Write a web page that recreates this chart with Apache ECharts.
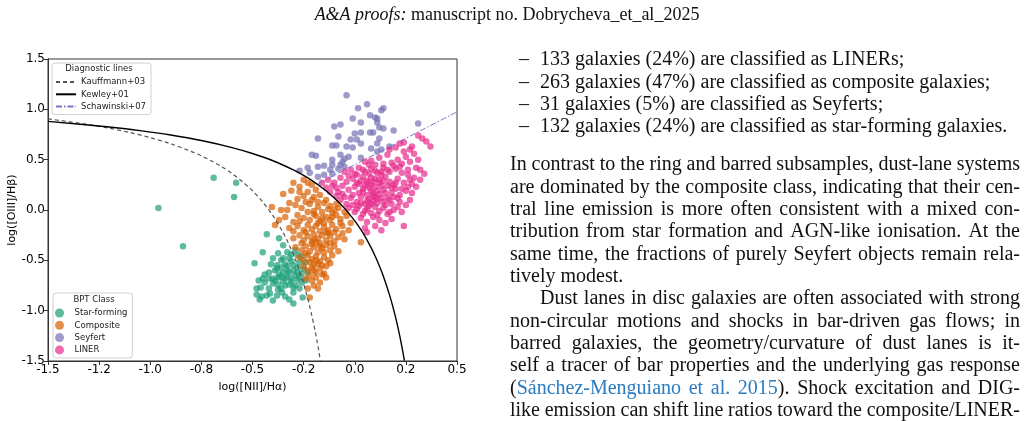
<!DOCTYPE html>
<html>
<head>
<meta charset="utf-8">
<script src="https://cdn.jsdelivr.net/npm/echarts@6/dist/echarts.min.js"></script>
<style>
  html, body { margin: 0; padding: 0; background: #fff; }
  #page { width: 1029px; height: 421px; }
</style>
</head>
<body>
<div id="page"></div>
<script>
// tick labels as printed on the figure (0.25 steps rounded to one decimal)
const xTickLabels = ['-1.5', '-1.2', '-1.0', '-0.8', '-0.5', '-0.2', '0.0', '0.2', '0.5'];
const yTickLabels = ['-1.5', '-1.0', '-0.5', '0.0', '0.5', '1.0', '1.5'];

// diagnostic lines
const kauffmannX = [-1.5, -1.3, -1.2, -1.1, -1.0, -0.9, -0.8, -0.75, -0.7, -0.65, -0.6, -0.55, -0.5, -0.45, -0.4, -0.35, -0.325, -0.3, -0.285, -0.27, -0.255, -0.24, -0.22, -0.21, -0.2, -0.193, -0.185, -0.176, -0.168];
const kauffmannY = [0.906, 0.848, 0.812, 0.770, 0.719, 0.658, 0.582, 0.538, 0.487, 0.429, 0.362, 0.283, 0.191, 0.080, -0.056, -0.225, -0.327, -0.443, -0.521, -0.606, -0.700, -0.803, -0.959, -1.046, -1.140, -1.210, -1.296, -1.399, -1.498];
const kewleyX = [-1.5, -1.2, -1.05, -0.9, -0.75, -0.6, -0.5, -0.4, -0.3, -0.25, -0.2, -0.15, -0.1, -0.05, 0.0, 0.03, 0.05, 0.08, 0.1, 0.12, 0.14, 0.17, 0.185, 0.2, 0.21, 0.22, 0.23, 0.235, 0.243];
const kewleyY = [0.880, 0.825, 0.789, 0.745, 0.690, 0.620, 0.561, 0.489, 0.398, 0.343, 0.280, 0.206, 0.120, 0.017, -0.108, -0.196, -0.262, -0.374, -0.459, -0.553, -0.658, -0.843, -0.950, -1.069, -1.156, -1.250, -1.352, -1.406, -1.497];
const schawinskiX = [-0.18, 0.5];
const schawinskiY = [0.261, 0.975];

// BPT classes: [log NII/Ha, log OIII/Hb]
const starForming = [
  [-0.96, 0.02], [-0.84, -0.36], [-0.69, 0.32], [-0.58, 0.27], [-0.59, 0.13], [-0.43, -0.24], [-0.37, -0.28], [-0.35, -0.35],
  [-0.45, -0.42], [-0.49, -0.53], [-0.375, -0.43], [-0.33, -0.42], [-0.40, -0.48], [-0.35, -0.48], [-0.32, -0.48], [-0.41, -0.54],
  [-0.38, -0.55], [-0.36, -0.57], [-0.33, -0.56], [-0.30, -0.55], [-0.28, -0.57], [-0.39, -0.60], [-0.35, -0.62], [-0.32, -0.62],
  [-0.28, -0.62], [-0.26, -0.63], [-0.45, -0.68], [-0.42, -0.68], [-0.40, -0.68], [-0.375, -0.67], [-0.34, -0.68], [-0.31, -0.68],
  [-0.28, -0.69], [-0.40, -0.73], [-0.375, -0.74], [-0.34, -0.75], [-0.32, -0.74], [-0.29, -0.75], [-0.26, -0.72], [-0.48, -0.78],
  [-0.46, -0.77], [-0.375, -0.79], [-0.355, -0.82], [-0.30, -0.82], [-0.48, -0.84], [-0.455, -0.86], [-0.43, -0.85], [-0.415, -0.83],
  [-0.34, -0.86], [-0.32, -0.89], [-0.255, -0.87], [-0.465, -0.89], [-0.36, -0.50], [-0.31, -0.44], [-0.29, -0.40], [-0.27, -0.52],
  [-0.30, -0.60], [-0.33, -0.66], [-0.37, -0.64], [-0.25, -0.58], [-0.24, -0.70], [-0.27, -0.78], [-0.39, -0.70], [-0.42, -0.62],
  [-0.44, -0.72], [-0.35, -0.71], [-0.31, -0.71], [-0.29, -0.65], [-0.38, -0.58], [-0.34, -0.54], [-0.31, -0.51], [-0.26, -0.46],
  [-0.24, -0.52], [-0.23, -0.62], [-0.36, -0.78], [-0.42, -0.78], [-0.40, -0.90], [-0.30, -0.93],
  [-0.33, -0.60], [-0.36, -0.66], [-0.27, -0.67], [-0.30, -0.77], [-0.38, -0.85], [-0.44, -0.64], [-0.47, -0.70], [-0.28, -0.45]
];
const composite = [
  [-0.30, 0.27], [-0.27, 0.23], [-0.23, 0.27], [-0.25, 0.30], [-0.21, 0.25],
  [-0.35, 0.16], [-0.28, 0.11], [-0.23, 0.18], [-0.20, 0.13], [-0.17, 0.15], [-0.14, 0.10], [-0.25, 0.14], [-0.31, 0.19], [-0.19, 0.20],
  [-0.405, 0.03], [-0.36, 0.00], [-0.33, 0.00], [-0.29, 0.05], [-0.26, 0.02], [-0.22, 0.06], [-0.18, 0.03], [-0.15, 0.07], [-0.12, 0.04],
  [-0.10, 0.00], [-0.20, -0.01], [-0.24, 0.08], [-0.16, -0.02], [-0.08, 0.02],
  [-0.34, -0.07], [-0.28, -0.05], [-0.30, -0.12], [-0.25, -0.08], [-0.22, -0.10], [-0.19, -0.06], [-0.17, -0.11], [-0.14, -0.07],
  [-0.12, -0.10], [-0.09, -0.05], [-0.07, -0.09], [-0.04, -0.06], [-0.20, -0.04], [-0.15, -0.13], [-0.11, -0.03],
  [-0.39, -0.15], [-0.32, -0.18], [-0.28, -0.16], [-0.25, -0.20], [-0.23, -0.15], [-0.21, -0.19], [-0.19, -0.16], [-0.17, -0.21],
  [-0.15, -0.17], [-0.13, -0.20], [-0.11, -0.15], [-0.09, -0.19], [-0.06, -0.16], [-0.03, -0.20], [-0.18, -0.13], [-0.14, -0.22],
  [-0.30, -0.28], [-0.27, -0.25], [-0.25, -0.30], [-0.23, -0.26], [-0.21, -0.31], [-0.20, -0.24], [-0.18, -0.28], [-0.16, -0.25],
  [-0.14, -0.30], [-0.12, -0.26], [-0.10, -0.31], [-0.08, -0.27], [-0.05, -0.29], [0.03, -0.32], [-0.19, -0.32], [-0.13, -0.23],
  [-0.29, -0.37], [-0.26, -0.40], [-0.24, -0.36], [-0.22, -0.41], [-0.20, -0.37], [-0.18, -0.42], [-0.16, -0.38], [-0.14, -0.35],
  [-0.12, -0.40], [-0.10, -0.36], [-0.08, -0.41], [-0.21, -0.34], [-0.17, -0.33],
  [-0.27, -0.47], [-0.25, -0.50], [-0.23, -0.45], [-0.21, -0.49], [-0.19, -0.46], [-0.17, -0.51], [-0.15, -0.47], [-0.13, -0.50],
  [-0.11, -0.45], [-0.18, -0.53], [-0.22, -0.52],
  [-0.25, -0.56], [-0.23, -0.60], [-0.21, -0.57], [-0.19, -0.62], [-0.17, -0.58], [-0.15, -0.63], [-0.14, -0.56], [-0.22, -0.65], [-0.20, -0.55],
  [-0.24, -0.68], [-0.21, -0.70], [-0.19, -0.67], [-0.14, -0.67], [-0.20, -0.75], [-0.22, -0.87], [-0.23, -0.78], [-0.17, -0.72],
  [-0.18, 0.08], [-0.13, 0.01], [-0.11, -0.07], [-0.07, -0.13], [-0.10, -0.22], [-0.16, -0.08], [-0.23, -0.02], [-0.27, -0.11],
  [-0.24, -0.22], [-0.20, -0.29], [-0.17, -0.36], [-0.15, -0.42], [-0.19, -0.50], [-0.24, -0.43], [-0.26, -0.33], [-0.12, -0.33],
  [-0.06, -0.23], [-0.02, -0.13], [-0.05, -0.02], [-0.09, 0.06], [-0.21, 0.10], [-0.27, 0.18], [-0.32, 0.07], [-0.37, -0.10],
  [-0.30, -0.21], [-0.16, -0.55], [-0.20, -0.60], [-0.12, -0.53], [-0.18, -0.78], [-0.16, -0.64]
];
const seyfert = [
  [-0.04, 1.14], [0.06, 1.05], [0.016, 1.01], [0.13, 0.99], [0.14, 1.01], [0.075, 0.94], [0.10, 0.92], [0.11, 0.91], [-0.01, 0.91],
  [-0.10, 0.83], [-0.07, 0.85], [0.03, 0.87], [0.11, 0.87], [0.12, 0.82], [0.14, 0.81], [0.19, 0.79], [0.31, 0.86], [0.03, 0.77],
  [0.00, 0.76], [0.075, 0.77], [0.09, 0.77], [0.12, 0.71], [-0.08, 0.73], [-0.18, 0.71], [-0.02, 0.70], [0.01, 0.70], [0.03, 0.66],
  [-0.11, 0.64], [-0.09, 0.64], [-0.04, 0.63], [-0.01, 0.62], [0.11, 0.66], [0.08, 0.61], [0.11, 0.58], [0.13, 0.60], [0.17, 0.63],
  [-0.21, 0.55], [-0.19, 0.54], [-0.07, 0.55], [-0.03, 0.53], [-0.05, 0.51], [0.03, 0.52], [-0.11, 0.50], [-0.06, 0.48],
  [-0.23, 0.42], [-0.18, 0.43], [-0.15, 0.44], [-0.11, 0.45], [-0.07, 0.45], [-0.12, 0.40], [-0.08, 0.41], [-0.05, 0.43],
  [-0.15, 0.35], [-0.11, 0.36], [-0.18, 0.33], [-0.27, 0.39], [-0.22, 0.37]
];
const liner = [
  [0.24, 0.67], [0.31, 0.74], [0.33, 0.71], [0.35, 0.68], [0.37, 0.63], [0.28, 0.63], [0.20, 0.62], [0.17, 0.60], [0.22, 0.66],
  [0.29, 0.56], [0.31, 0.50], [0.25, 0.53], [0.21, 0.50], [0.16, 0.55], [0.12, 0.52], [0.08, 0.49], [0.18, 0.47], [0.23, 0.46],
  [0.05, 0.48], [0.27, 0.48], [0.14, 0.46], [0.10, 0.45],
  [-0.05, 0.38], [-0.02, 0.40], [0.02, 0.42], [0.05, 0.38], [0.08, 0.41], [0.11, 0.37], [0.14, 0.42], [0.17, 0.38], [0.20, 0.41],
  [0.23, 0.37], [0.26, 0.40], [0.30, 0.42], [0.32, 0.40], [0.29, 0.32], [0.00, 0.36], [0.13, 0.35], [0.19, 0.44],
  [-0.13, 0.30], [-0.10, 0.27], [-0.07, 0.32], [-0.04, 0.28], [-0.01, 0.31], [0.02, 0.26], [0.04, 0.33], [0.06, 0.29], [0.08, 0.25],
  [0.10, 0.31], [0.12, 0.27], [0.15, 0.33], [0.17, 0.28], [0.19, 0.25], [0.21, 0.31], [0.24, 0.27], [0.27, 0.30], [-0.16, 0.27],
  [-0.12, 0.18], [-0.09, 0.22], [-0.06, 0.16], [-0.03, 0.20], [0.00, 0.23], [0.02, 0.17], [0.04, 0.21], [0.06, 0.15], [0.08, 0.19],
  [0.10, 0.23], [0.12, 0.16], [0.14, 0.20], [0.16, 0.24], [0.18, 0.17], [0.20, 0.21], [0.22, 0.15], [0.25, 0.19], [0.28, 0.17],
  [0.30, 0.23], [0.05, 0.24], [0.11, 0.19], [0.07, 0.22], [-0.01, 0.15],
  [-0.07, 0.10], [-0.04, 0.06], [-0.02, 0.12], [0.01, 0.08], [0.03, 0.13], [0.05, 0.06], [0.07, 0.11], [0.09, 0.14], [0.11, 0.07],
  [0.13, 0.12], [0.15, 0.05], [0.17, 0.10], [0.19, 0.13], [0.22, 0.08], [0.25, 0.05], [0.09, 0.09], [-0.09, 0.14],
  [-0.03, 0.02], [0.00, -0.02], [0.02, 0.04], [0.04, -0.04], [0.06, 0.01], [0.08, -0.03], [0.10, 0.03], [0.12, -0.01], [0.14, 0.02],
  [0.16, -0.04], [0.19, 0.00], [0.23, -0.02], [0.07, 0.04],
  [0.03, -0.08], [0.06, -0.12], [0.09, -0.07], [0.12, -0.10], [0.15, -0.13], [0.05, -0.18], [0.10, -0.16], [0.18, -0.09],
  [0.06, -0.22], [0.24, -0.16], [0.13, -0.20],
  [0.06, 0.27], [0.09, 0.17], [0.13, 0.24], [0.04, 0.18], [0.10, 0.13], [0.15, 0.17], [0.08, 0.32], [0.01, 0.27], [0.12, 0.30], [0.18, 0.22],
  [0.01, 0.35], [0.04, 0.40], [0.07, 0.36], [0.10, 0.39], [0.16, 0.40], [0.22, 0.43], [0.26, 0.35], [0.28, 0.26], [0.23, 0.21],
  [0.21, 0.12], [0.18, 0.06], [0.14, 0.08], [0.11, 0.11], [0.06, 0.09], [0.03, 0.07], [-0.01, 0.05], [-0.05, 0.13], [-0.08, 0.18],
  [-0.11, 0.24], [-0.14, 0.22], [-0.06, 0.24], [-0.03, 0.34], [0.03, 0.29], [0.09, 0.28], [0.14, 0.29], [0.20, 0.27], [0.26, 0.23],
  [0.16, 0.12], [0.08, 0.06], [0.01, 0.01], [0.05, -0.01], [0.11, -0.05], [0.17, -0.02], [0.21, 0.03], [0.27, 0.10], [0.32, 0.30],
  [0.34, 0.36], [0.13, 0.38], [0.07, 0.45], [0.24, 0.58], [0.27, 0.60]
];

// page text
const headerText = '{i|A&A proofs:} manuscript no. Dobrycheva_et_al_2025';
const bulletLines = [
  '133 galaxies (24%) are classified as LINERs;',
  '263 galaxies (47%) are classified as composite galaxies;',
  '31 galaxies (5%) are classified as Seyferts;',
  '132 galaxies (24%) are classified as star-forming galaxies.'
];
const paragraph1 = [
  'In contrast to the ring and barred subsamples, dust-lane systems',
  'are dominated by the composite class, indicating that their cen-',
  'tral line emission is more often consistent with a mixed con-',
  'tribution from star formation and AGN-like ionisation. At the',
  'same time, the fractions of purely Seyfert objects remain rela-',
  'tively modest.'
];
const paragraph2 = [
  'Dust lanes in disc galaxies are often associated with strong',
  'non-circular motions and shocks in bar-driven gas flows; in',
  'barred galaxies, the geometry/curvature of dust lanes is it-',
  'self a tracer of bar properties and the underlying gas response',
  '({a|Sánchez-Menguiano} {a|et} {a|al.} {a|2015}). Shock excitation and DIG-',
  'like emission can shift line ratios toward the composite/LINER-'
];

const zip = (xs, ys) => xs.map((x, i) => [x, ys[i]]);

const bodyFont = '20px "Liberation Serif"';
const ink = '#111';
const linkBlue = '#2b7bc0';
const measureCtx = document.createElement('canvas').getContext('2d');
function textWidth(s) {
  measureCtx.font = bodyFont;
  return measureCtx.measureText(s.replace(/\{a\|([^}]*)\}/g, '$1')).width;
}
function textEl(text, x, y) {
  return {
    type: 'text', x: x, y: y, silent: true,
    style: {
      text: text, font: bodyFont, fill: ink,
      verticalAlign: 'middle', textVerticalAlign: 'middle',
      rich: { a: { fill: linkBlue, font: bodyFont } }
    }
  };
}
// place words one by one so a line fills the column width
function setLine(text, x0, x1, y, justify) {
  if (!justify) return [textEl(text, x0, y)];
  const words = text.split(' ');
  const widths = words.map(textWidth);
  const used = widths.reduce((a, b) => a + b, 0);
  const gap = (x1 - x0 - used) / (words.length - 1);
  const out = [];
  let x = x0;
  words.forEach((w, i) => {
    out.push(textEl(w, x, y));
    x += widths[i] + gap;
  });
  return out;
}

const colLeft = 510, colRight = 1020, lineStep = 22.35;
const pageText = [];
pageText.push({
  type: 'text', x: 507, y: 15, silent: true,
  style: {
    text: headerText, font: '18px "Liberation Serif"', fill: ink,
    align: 'center', textAlign: 'center', verticalAlign: 'middle', textVerticalAlign: 'middle',
    rich: { i: { font: 'italic 18px "Liberation Serif"', fill: ink } }
  }
});
bulletLines.forEach((t, i) => {
  const y = 60 + i * lineStep;
  pageText.push(textEl('–', 519, y));
  pageText.push(textEl(t, 540, y));
});
paragraph1.forEach((t, i) => {
  pageText.push(...setLine(t, colLeft, colRight, 165 + i * lineStep, i < paragraph1.length - 1));
});
paragraph2.forEach((t, i) => {
  pageText.push(...setLine(t, i === 0 ? colLeft + 30 : colLeft, colRight, 299 + i * lineStep, true));
});

// legend titles (matplotlib legend boxes carry a title)
const smallFont = '8.5px "DejaVu Sans"';
pageText.push({ type: 'text', x: 99, y: 69, silent: true, z: 100,
  style: { text: 'Diagnostic lines', font: smallFont, fill: '#222', align: 'center', textAlign: 'center', verticalAlign: 'middle', textVerticalAlign: 'middle' } });
pageText.push({ type: 'text', x: 94, y: 300, silent: true, z: 100,
  style: { text: 'BPT Class', font: smallFont, fill: '#222', align: 'center', textAlign: 'center', verticalAlign: 'middle', textVerticalAlign: 'middle' } });

const chart = echarts.init(document.getElementById('page'), null, { renderer: 'canvas' });

const scatter = (name, data, color) => ({
  name: name, type: 'scatter', data: data, symbolSize: 6.5,
  itemStyle: { color: color, opacity: 0.7 },
  emphasis: { disabled: true }, z: 2
});
const curve = (name, data, color, width, dash) => ({
  name: name, type: 'line', data: data, showSymbol: false, symbol: 'none',
  smooth: 0.3, smoothMonotone: 'none',
  lineStyle: { color: color, width: width, type: dash }, itemStyle: { color: color },
  emphasis: { disabled: true }, z: 3
});

const legendBase = {
  orient: 'vertical', backgroundColor: 'rgba(255,255,255,0.85)',
  borderColor: '#d0d0d0', borderWidth: 1, borderRadius: 3,
  itemGap: 2.3, selectedMode: false,
  textStyle: { fontFamily: 'DejaVu Sans', fontSize: 8.5, color: '#222', lineHeight: 10 }
};

chart.setOption({
  animation: false,
  backgroundColor: '#fff',
  grid: { left: 48, top: 59, width: 409, height: 302, show: true, borderColor: '#333', borderWidth: 1 },
  xAxis: {
    type: 'value', min: -1.5, max: 0.5, interval: 0.25,
    name: 'log([NII]/Hα)', nameLocation: 'middle', nameGap: 21,
    nameTextStyle: { fontFamily: 'DejaVu Sans', fontSize: 11, color: '#000' },
    axisLine: { show: true, onZero: false, lineStyle: { color: '#333', width: 1 } },
    axisTick: { show: true, inside: false, length: 4, lineStyle: { color: '#333' } },
    axisLabel: {
      margin: 3, fontFamily: 'DejaVu Sans', fontSize: 12, color: '#000',
      formatter: v => xTickLabels[Math.round((v + 1.5) / 0.25)]
    },
    splitLine: { show: false }
  },
  yAxis: {
    type: 'value', min: -1.5, max: 1.5, interval: 0.5,
    name: 'log([OIII]/Hβ)', nameLocation: 'middle', nameGap: 28, nameRotate: 90,
    nameTextStyle: { fontFamily: 'DejaVu Sans', fontSize: 11, color: '#000' },
    axisLine: { show: true, onZero: false, lineStyle: { color: '#333', width: 1 } },
    axisTick: { show: true, inside: false, length: 4, lineStyle: { color: '#333' } },
    axisLabel: {
      margin: 3, fontFamily: 'DejaVu Sans', fontSize: 12, color: '#000',
      formatter: v => yTickLabels[Math.round((v + 1.5) / 0.5)]
    },
    splitLine: { show: false }
  },
  legend: [
    Object.assign({}, legendBase, {
      left: 52, top: 63, padding: [14, 5, 3, 3], itemWidth: 20, itemHeight: 8,
      itemStyle: { opacity: 0 },
      data: ['Kauffmann+03', 'Kewley+01', 'Schawinski+07']
    }),
    Object.assign({}, legendBase, {
      left: 53, top: 293, padding: [15, 5, 3, 2], itemWidth: 20, itemHeight: 9, icon: 'circle',
      data: ['Star-forming', 'Composite', 'Seyfert', 'LINER']
    })
  ],
  series: [
    scatter('Star-forming', starForming, '#1b9e77'),
    scatter('Composite', composite, '#d95f02'),
    scatter('Seyfert', seyfert, '#7570b3'),
    scatter('LINER', liner, '#e7298a'),
    curve('Kauffmann+03', zip(kauffmannX, kauffmannY), '#555', 1.2, [4, 3]),
    curve('Kewley+01', zip(kewleyX, kewleyY), '#000', 1.4, 'solid'),
    curve('Schawinski+07', zip(schawinskiX, schawinskiY), '#7a74c0', 1, [6, 2, 1.5, 2])
  ],
  graphic: { elements: pageText }
});
</script>
</body>
</html>
